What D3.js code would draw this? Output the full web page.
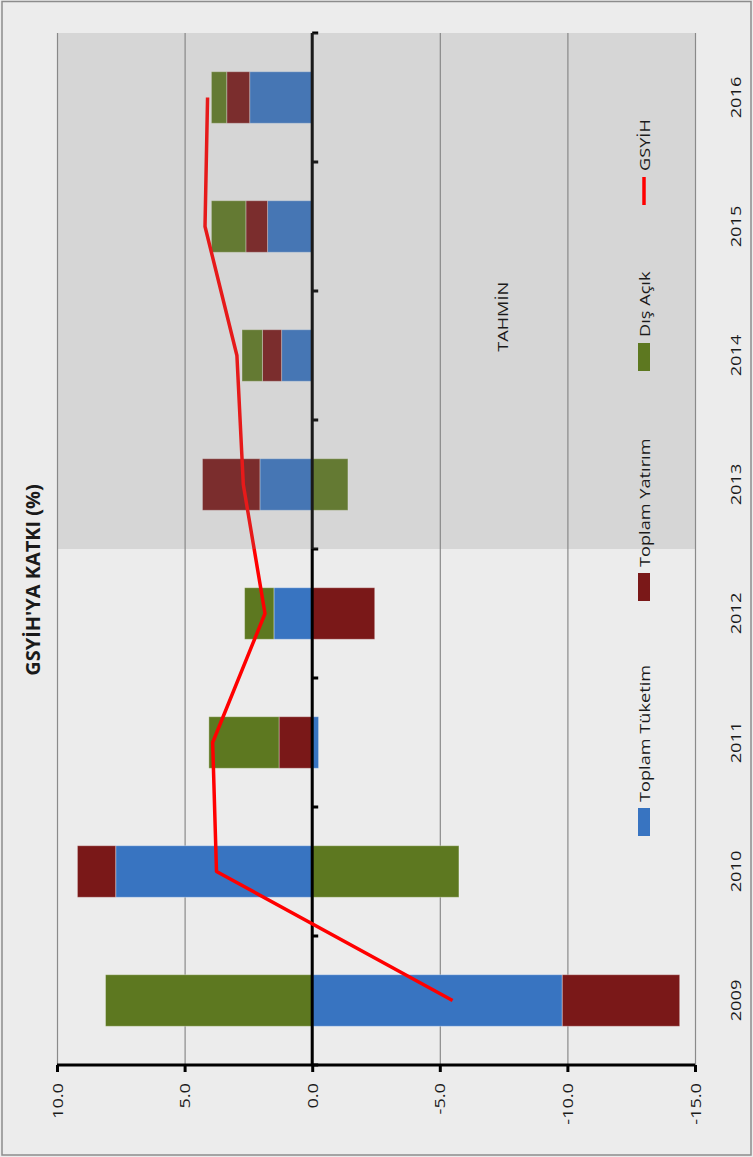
<!DOCTYPE html>
<html>
<head>
<meta charset="utf-8">
<script src="https://cdn.jsdelivr.net/npm/d3@7"></script>
<style>
  body { margin: 0; background: #ececec; }
  svg text { font-family: "Open Sans", sans-serif; fill: #1a1a1a; }
</style>
</head>
<body>
<div id="chart"></div>
<script>
// DATA ---------------------------------------------------------------
const years = ["2009", "2010", "2011", "2012", "2013", "2014", "2015", "2016"];
const tuketim = [-9.8, 7.7, -0.25, 1.5, 2.05, 1.2, 1.75, 2.45];   // Toplam Tüketim
const yatirim = [-4.6, 1.5, 1.3, -2.45, 2.25, 0.75, 0.85, 0.9];   // Toplam Yatırım
const disAcik = [8.1, -5.75, 2.75, 1.15, -1.4, 0.8, 1.35, 0.6];   // Dış Açık
const gsyih = [-5.5, 3.75, 3.9, 1.85, 2.7, 2.95, 4.2, 4.1];       // GSYİH
const valueTicks = [10, 5, 0, -5, -10, -15];
const forecastFrom = "2013";

const seriesNames = ["Toplam Tüketim", "Toplam Yatırım", "Dış Açık"];
const colors = { "Toplam Tüketim": "#3874c1", "Toplam Yatırım": "#7a1818", "Dış Açık": "#5d7820", "GSYİH": "#ff0000" };

// SETTINGS -----------------------------------------------------------
const width = 753, height = 1157;
const plot = { left: 57, right: 695, top: 33, bottom: 1065 };
const stretch = 1.3;

const svg = d3.select("#chart").append("svg")
    .attr("width", width)
    .attr("height", height);

// outer frame
svg.append("rect")
    .attr("x", 2).attr("y", 1.5)
    .attr("width", width - 4).attr("height", height - 3.5)
    .attr("fill", "#ececec")
    .attr("stroke", "#8c8c8c")
    .attr("stroke-width", 1.5);

// SCALES -------------------------------------------------------------
const x = d3.scaleLinear().domain([10, -15]).range([plot.left, plot.right]);
const y = d3.scaleBand()
    .domain(years.slice().reverse())
    .range([plot.top, plot.bottom])
    .paddingInner(0.6)
    .paddingOuter(0.3);

const rows = years.map((yr, i) => ({
    year: yr,
    "Toplam Tüketim": tuketim[i],
    "Toplam Yatırım": yatirim[i],
    "Dış Açık": disAcik[i],
    gsyih: gsyih[i]
}));

const stacked = d3.stack()
    .keys(seriesNames)
    .offset(d3.stackOffsetDiverging)(rows);

// GRID ---------------------------------------------------------------
svg.append("g")
    .attr("transform", `translate(0, ${plot.bottom})`)
    .call(d3.axisBottom(x).tickValues(valueTicks).tickSize(-(plot.bottom - plot.top)).tickFormat(""))
    .call(g => g.select(".domain").remove())
    .call(g => g.selectAll("line").attr("stroke", "#8a8a8a").attr("stroke-width", 1.2));

// BARS ---------------------------------------------------------------
svg.append("g")
    .selectAll("g")
    .data(stacked)
    .join("g")
    .attr("fill", d => colors[d.key])
    .selectAll("rect")
    .data(d => d)
    .join("rect")
    .attr("x", d => x(Math.max(d[0], d[1])))
    .attr("width", d => Math.abs(x(d[0]) - x(d[1])))
    .attr("y", d => y(d.data.year))
    .attr("height", y.bandwidth())
    .attr("stroke", "rgba(255,255,255,0.35)")
    .attr("stroke-width", 1);

// VALUE AXIS (bottom) ------------------------------------------------
const fmt = v => d3.format(".1f")(v).replace("−", "-");
const xAxis = svg.append("g")
    .attr("transform", `translate(0, ${plot.bottom})`)
    .call(d3.axisBottom(x).tickValues(valueTicks).tickSize(7).tickFormat(fmt));

xAxis.select(".domain").attr("stroke", "#000").attr("stroke-width", 3).attr("d", `M${plot.left},0H${plot.right}`);
xAxis.selectAll(".tick line").attr("stroke", "#000").attr("stroke-width", 3);
xAxis.selectAll(".tick text")
    .attr("y", 0).attr("dy", null)
    .attr("transform", `translate(0, 18) rotate(-90) scale(${stretch}, 1)`)
    .attr("text-anchor", "end")
    .attr("dominant-baseline", "central")
    .style("font-size", "14px")
    .style("fill", "#1a1a1a");

// CATEGORY AXIS (zero line) ------------------------------------------
const boundaries = d3.range(years.length + 1).map(i => plot.top + i * y.step());
const catAxis = svg.append("g");
catAxis.append("line")
    .attr("x1", x(0)).attr("x2", x(0))
    .attr("y1", plot.top).attr("y2", plot.bottom)
    .attr("stroke", "#000").attr("stroke-width", 3);
catAxis.selectAll(".btick")
    .data(boundaries)
    .join("line")
    .attr("class", "btick")
    .attr("x1", x(0)).attr("x2", x(0) + 6)
    .attr("y1", d => d).attr("y2", d => d)
    .attr("stroke", "#000").attr("stroke-width", 3);

// category labels
svg.append("g")
    .selectAll("text")
    .data(years)
    .join("text")
    .attr("transform", d => `translate(736, ${y(d) + y.bandwidth() / 2}) rotate(-90) scale(${stretch}, 1)`)
    .attr("text-anchor", "middle")
    .attr("dominant-baseline", "central")
    .style("font-size", "14px")
    .text(d => d);

// LINE -----------------------------------------------------------------
const line = d3.line()
    .x(d => x(d.gsyih))
    .y(d => y(d.year) + y.bandwidth() / 2);

svg.append("path")
    .datum(rows)
    .attr("fill", "none")
    .attr("stroke", colors["GSYİH"])
    .attr("stroke-width", 3.5)
    .attr("stroke-linejoin", "round")
    .attr("d", line);

// FORECAST OVERLAY -----------------------------------------------------
const forecastBottom = y(forecastFrom) + y.bandwidth() + y.step() * y.paddingInner() / 2;
svg.append("rect")
    .attr("x", plot.left)
    .attr("y", plot.top)
    .attr("width", plot.right - plot.left)
    .attr("height", forecastBottom - plot.top)
    .attr("fill", "rgb(128,128,128)")
    .attr("fill-opacity", 0.2);

svg.append("text")
    .attr("transform", `translate(503, ${plot.top + 2.2 * y.step()}) rotate(-90) scale(${stretch}, 1)`)
    .attr("text-anchor", "middle")
    .attr("dominant-baseline", "central")
    .style("font-size", "14px")
    .text("TAHMİN");

// TITLE ----------------------------------------------------------------
svg.append("text")
    .attr("transform", `translate(33, 580) rotate(-90) scale(1.05, 1)`)
    .attr("text-anchor", "middle")
    .attr("dominant-baseline", "central")
    .style("font-size", "19px")
    .style("font-weight", "bold")
    .text("GSYİH'YA KATKI (%)");

// LEGEND ---------------------------------------------------------------
const legendItems = [
    { name: "Toplam Tüketim", type: "rect", pos: 836 },
    { name: "Toplam Yatırım", type: "rect", pos: 601 },
    { name: "Dış Açık", type: "rect", pos: 371 },
    { name: "GSYİH", type: "line", pos: 205 }
];
const legendX = 644;
const legend = svg.append("g");
legendItems.forEach(item => {
    const g = legend.append("g");
    if (item.type === "rect") {
        g.append("rect")
            .attr("x", legendX - 6).attr("y", item.pos - 28)
            .attr("width", 12).attr("height", 28)
            .attr("fill", colors[item.name]);
    } else {
        g.append("line")
            .attr("x1", legendX).attr("x2", legendX)
            .attr("y1", item.pos).attr("y2", item.pos - 28)
            .attr("stroke", colors[item.name])
            .attr("stroke-width", 3.5);
    }
    g.append("text")
        .attr("transform", `translate(${legendX + 1}, ${item.pos - 34}) rotate(-90) scale(${stretch}, 1)`)
        .attr("text-anchor", "start")
        .attr("dominant-baseline", "central")
        .style("font-size", "14px")
        .text(item.name);
});
</script>
</body>
</html>
